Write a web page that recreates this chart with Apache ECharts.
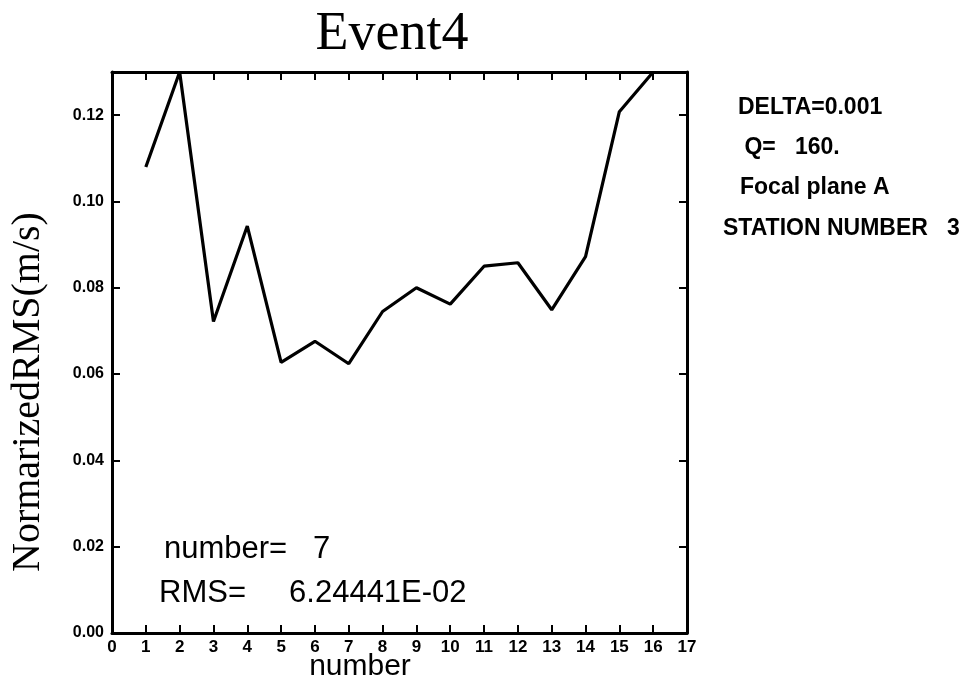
<!DOCTYPE html>
<html>
<head>
<meta charset="utf-8">
<script src="https://cdn.jsdelivr.net/npm/echarts@6/dist/echarts.min.js"></script>
<style>
html,body{margin:0;padding:0;background:#fff;}
#c{width:973px;height:687px;}
</style>
</head>
<body>
<div id="c"></div>
<script>
const stationNumbers = [1,2,3,4,5,6,7,8,9,10,11,12,13,14,15,16];
const rmsValues = [0.108,0.130,0.0722,0.0943,0.0627,0.0676,0.0624,0.0745,0.0800,0.0762,0.0850,0.0858,0.0749,0.0872,0.1208,0.130];
const titleText = 'Event4';
const yName = 'NormarizedRMS(m/s)';
const xName = 'number';
const infoLines = ['DELTA=0.001', ' Q=   160.', 'Focal plane A', 'STATION NUMBER   3'];
const resultLines = ['number=   7', 'RMS=     6.24441E-02'];

const chart = echarts.init(document.getElementById('c'));
const sans = 'Liberation Sans, Arial, Helvetica, sans-serif';
const serif = 'Liberation Serif, Times New Roman, serif';
const axisLine = {show:true, onZero:false, lineStyle:{color:'#000', width:3}};
const tick = {show:true, inside:true, length:8, lineStyle:{color:'#000', width:2}};

chart.setOption({
  animation:false,
  backgroundColor:'#fff',
  grid:{left:112, right:286, top:72, bottom:54, containLabel:false},
  xAxis:[
    {type:'value', min:0, max:17, interval:1, position:'bottom',
     axisLine:axisLine, axisTick:tick, splitLine:{show:false},
     axisLabel:{color:'#000', fontFamily:sans, fontWeight:'bold', fontSize:17, margin:6}},
    {type:'value', min:0, max:17, interval:1, position:'top',
     axisLine:axisLine, axisTick:tick, splitLine:{show:false}, axisLabel:{show:false}}
  ],
  yAxis:[
    {type:'value', min:0, max:0.13, interval:0.02, position:'left',
     axisLine:axisLine, axisTick:tick, splitLine:{show:false},
     axisLabel:{color:'#000', fontFamily:sans, fontWeight:'bold', fontSize:16, margin:8,
       formatter:function(v){const r=v/0.02; return Math.abs(r-Math.round(r))<1e-6 ? v.toFixed(2) : '';}}},
    {type:'value', min:0, max:0.13, interval:0.02, position:'right',
     axisLine:axisLine, axisTick:tick, splitLine:{show:false}, axisLabel:{show:false}}
  ],
  series:[{
    type:'line', xAxisIndex:0, yAxisIndex:0, symbol:'none',
    lineStyle:{color:'#000', width:3.2}, clip:false,
    data: stationNumbers.map((n,i)=>[n, rmsValues[i]])
  }],
  graphic:[
    {type:'text', x:392, y:35, style:{text:titleText, font:'54px '+serif, fill:'#000', textAlign:'center', textVerticalAlign:'middle'}},
    {type:'text', rotation:Math.PI/2, x:8, y:572, style:{text:yName, font:'40px '+serif, fill:'#000', textAlign:'left', textVerticalAlign:'top'}},
    {type:'text', x:360, y:667, style:{text:xName, font:'30px '+sans, fill:'#000', textAlign:'center', textVerticalAlign:'middle'}},
    {type:'text', x:164, y:549, style:{text:resultLines[0], font:'31px '+sans, fill:'#000', textVerticalAlign:'middle'}},
    {type:'text', x:159, y:593, style:{text:resultLines[1], font:'31px '+sans, fill:'#000', textVerticalAlign:'middle'}},
    {type:'text', x:738, y:108, style:{text:infoLines[0], font:'bold 23px '+sans, fill:'#000', textVerticalAlign:'middle'}},
    {type:'text', x:738, y:148, style:{text:infoLines[1], font:'bold 23px '+sans, fill:'#000', textVerticalAlign:'middle'}},
    {type:'text', x:740, y:188, style:{text:infoLines[2], font:'bold 23px '+sans, fill:'#000', textVerticalAlign:'middle'}},
    {type:'text', x:723, y:229, style:{text:infoLines[3], font:'bold 23px '+sans, fill:'#000', textVerticalAlign:'middle'}}
  ]
});
</script>
</body>
</html>
